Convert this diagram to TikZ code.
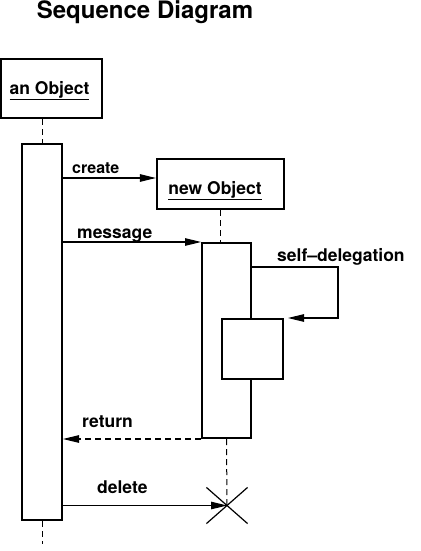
\documentclass[tikz,border=0pt]{standalone}
\usepackage{fontspec}
\setmainfont{TeX Gyre Heros}
\usetikzlibrary{arrows.meta, positioning, calc, shapes.misc}

\begin{document}
\begin{tikzpicture}[x=1pt, y=-1pt,
    objbox/.style={draw, line width=2.2pt, inner sep=0pt},
    objname/.style={anchor=base, inner sep=0pt, font=\bfseries\fontsize{17.5}{20}\selectfont},
    actbar/.style={draw, line width=2pt, inner sep=0pt, fill=white},
    lbl/.style={anchor=base west, inner sep=0pt, font=\bfseries\fontsize{17.5}{20}\selectfont},
    msg/.style={line width=1.1pt, -{Triangle[length=16pt, width=7.5pt]}},
    life/.style={line width=1pt, dash pattern=on 6pt off 4pt}]
  \useasboundingbox (0,0) rectangle (420,551);
  % Title
  \node[font=\bfseries\fontsize{24}{28}\selectfont] (title) at (145,12) {Sequence Diagram};
  % Objects and activations
  \node[objbox, minimum width=101pt, minimum height=59pt] (objA) at (51.5,88.5) {};
  \node[objname] (objAname) at (49.5,94) {\underline{an Object}};
  \node[actbar, minimum width=40pt, minimum height=376pt] (abar) at (42,332) {};
  \node[objbox, minimum width=127pt, minimum height=50pt] (objB) at (220.5,184) {};
  \node[objname] (objBname) at (215,194) {\underline{new Object}};
  \node[actbar, minimum width=49pt, minimum height=195pt] (bbar) at (226.5,340.5) {};
  \node[actbar, minimum width=61pt, minimum height=60pt] (nest) at (252.5,349) {};
  \node[cross out, draw, line width=1.2pt, minimum width=40pt, minimum height=35pt] (xmark) at (227,505.5) {};
  % Lifelines
  \coordinate (aEnd) at ([yshift=-23pt]abar.south);
  \draw[life] (abar.north |- objA.south) -- (abar.north);
  \draw[life] (abar.south) -- (aEnd);
  \draw[life] (objB.south) -- (objB.south |- bbar.north);
  \draw[life] (bbar.south) -- (xmark.center);
  % Messages
  \coordinate (crEnd) at ([yshift=6pt]objB.west);
  \draw[msg] (abar.east |- crEnd) -- (crEnd);
  \node[lbl, font=\bfseries\fontsize{16}{18}\selectfont] (crLbl) at (72,173) {create};
  \draw[msg] (abar.east |- bbar.north west) -- (bbar.north west);
  \node[lbl] (msgLbl) at (77,238) {message};
  % Self delegation
  \coordinate (selfTop) at ([yshift=-25pt]bbar.north east);
  \coordinate (selfEnd) at ([xshift=4pt]nest.north east);
  \draw[msg] (selfTop) -- ++(86,0) |- (selfEnd);
  \node[lbl] (selfLbl) at (277,261) {self\textendash delegation};
  % Return and delete
  \draw[msg, dash pattern=on 6pt off 4pt] (bbar.south west) -- (abar.east |- bbar.south west);
  \node[lbl] (retLbl) at (82,427) {return};
  \draw[msg] (abar.east |- xmark.center) -- (xmark.center);
  \node[lbl] (delLbl) at (97,493) {delete};
\end{tikzpicture}
\end{document}
